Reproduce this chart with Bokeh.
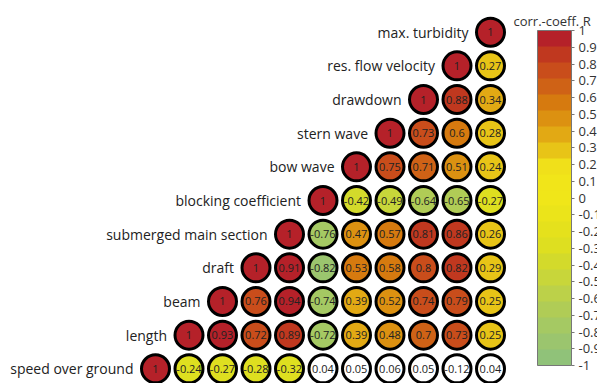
from bokeh.plotting import figure
from bokeh.models import (ColumnDataSource, LinearColorMapper, ColorBar, FixedTicker,
                          CustomJSTickFormatter, Label, Range1d)
from bokeh.core.properties import value
from bokeh.embed import file_html
from bokeh.resources import INLINE

# ---------------- data ----------------
variables = ["speed over ground", "length", "beam", "draft", "submerged main section",
             "blocking coefficient", "bow wave", "stern wave", "drawdown",
             "res. flow velocity", "max. turbidity"]

# row i holds R for columns i..10 (upper triangle incl. diagonal)
r_speed      = [1, -0.24, -0.27, -0.28, -0.32, 0.04, 0.05, 0.06, 0.05, -0.12, 0.04]
r_length     = [1, 0.93, 0.72, 0.89, -0.72, 0.39, 0.48, 0.7, 0.73, 0.25]
r_beam       = [1, 0.76, 0.94, -0.74, 0.39, 0.52, 0.74, 0.79, 0.25]
r_draft      = [1, 0.91, -0.82, 0.53, 0.58, 0.8, 0.82, 0.29]
r_submerged  = [1, -0.76, 0.47, 0.57, 0.81, 0.86, 0.26]
r_blocking   = [1, -0.42, -0.49, -0.64, -0.65, -0.27]
r_bow        = [1, 0.75, 0.71, 0.51, 0.24]
r_stern      = [1, 0.73, 0.6, 0.28]
r_drawdown   = [1, 0.88, 0.34]
r_resflow    = [1, 0.27]
r_turbidity  = [1]
rows = [r_speed, r_length, r_beam, r_draft, r_submerged, r_blocking,
        r_bow, r_stern, r_drawdown, r_resflow, r_turbidity]

# (row, column) pairs that are not significant (drawn white)
not_significant = [(0, 5), (0, 6), (0, 7), (0, 8), (0, 9), (0, 10)]

cb_ticks = [-1, -0.9, -0.8, -0.7, -0.6, -0.5, -0.4, -0.3, -0.2, -0.1, 0,
            0.1, 0.2, 0.3, 0.4, 0.5, 0.6, 0.7, 0.8, 0.9, 1]

palette = ["#90c279", "#9bc56e", "#a5c963", "#b0cc56", "#bcd149", "#c8d63a",
           "#d3da2b", "#dedf20", "#e5e11c", "#ebe41a", "#f0e619",
           "#f1e519", "#f0e01a", "#e8c417", "#e2a914", "#dc9111",
           "#d67a0f", "#cf6216", "#c94d1b", "#c0381f", "#b52129"]

# ---------------- build sources ----------------
sig = dict(x=[], y=[], r=[], t=[])
nsig = dict(x=[], y=[], r=[], t=[])
for i, row in enumerate(rows):
    for k, r in enumerate(row):
        j = i + k
        d = nsig if (i, j) in not_significant else sig
        d["x"].append(j)
        d["y"].append(i)
        d["r"].append(r)
        d["t"].append(f"{r:g}")

src_sig = ColumnDataSource(sig)
src_nsig = ColumnDataSource(nsig)
src_lab = ColumnDataSource(dict(x=list(range(len(variables))),
                                y=list(range(len(variables))),
                                name=variables))

W, H = 597, 383
X0, DX = 155, 33.5
Y0, DY = H - 368.3, 33.66
p = figure(width=W, height=H, output_backend="svg", toolbar_location=None,
           x_range=Range1d(-X0 / DX, (W - X0) / DX),
           y_range=Range1d(-Y0 / DY, (H - Y0) / DY),
           x_axis_location=None, y_axis_location=None, title=None,
           min_border=0, outline_line_color=None, background_fill_color="white")
p.grid.visible = False

mapper = LinearColorMapper(palette=palette, low=-1, high=1)

p.scatter("x", "y", source=src_sig, marker="circle", size=28, line_color="black",
          line_width=3, fill_color={"field": "r", "transform": mapper})
p.scatter("x", "y", source=src_nsig, marker="circle", size=28, line_color="black",
          line_width=3, fill_color="white")

FONT = value("Open Sans")
for s in (src_sig, src_nsig):
    p.text("x", "y", text="t", source=s, text_align="center", text_baseline="middle",
           text_font=FONT, text_font_size="11px", text_color="#222222")

p.text("x", "y", text="name", source=src_lab, x_offset=-22, text_align="right",
       text_baseline="middle", text_font=FONT, text_font_size="14px",
       text_color="#222222")

cb = ColorBar(color_mapper=mapper, ticker=FixedTicker(ticks=cb_ticks),
              formatter=CustomJSTickFormatter(code="return String(Math.round(tick * 10) / 10);"),
              orientation="vertical", width=34, height=335, padding=0,
              location=(537, 18), major_tick_in=0, major_tick_out=3,
              major_tick_line_color="#777777", bar_line_color="#777777",
              label_standoff=4, major_label_text_font="Open Sans",
              major_label_text_font_size="13px", major_label_text_color="#333333",
              background_fill_alpha=0, border_line_color=None)
p.add_layout(cb, "center")

p.add_layout(Label(x=513, y=362.3, x_units="screen", y_units="screen",
                   text="corr.-coeff. R", text_font="Open Sans",
                   text_font_size="13px", text_color="#333333",
                   text_baseline="alphabetic"))

open("out.html", "w").write(file_html(p, INLINE))
